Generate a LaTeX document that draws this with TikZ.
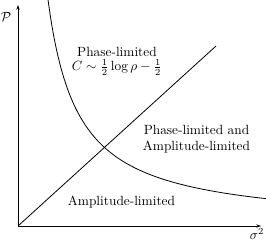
\documentclass[tikz,border=0pt]{standalone}
\usetikzlibrary{arrows.meta}
\begin{document}
\begin{tikzpicture}[x=0.75pt,y=0.75pt,
  axis/.style={line width=0.6pt,-{Stealth[length=3.5pt,width=2.5pt]}},
  curve/.style={line width=0.6pt},
  lbl/.style={inner sep=0pt,align=center}]
\useasboundingbox (-18,-18) rectangle (248,226);
\coordinate (o) at (0,0);
\coordinate (ytop) at (0,221);
\coordinate (xend) at (243,0);
\coordinate (dend) at (198,180);
\draw[axis] (o) -- (ytop);
\draw[axis] (o) -- (xend);
\draw[curve] (o) -- (dend);
\draw[curve] plot[domain=30:248,samples=120,smooth] (\x,{6792/\x});
\node[lbl] (py) at (-12,209) {$\mathcal{P}$};
\node[lbl,anchor=north] (sx) at (239,-2) {$\sigma^2$};
\node[lbl] (pl) at (99,174.5) {Phase-limited};
\node[lbl] (cf) at (99,158.5) {$C\sim\frac{1}{2}\log\rho-\frac{1}{2}$};
\node[lbl] (pa) at (178.5,86.5) {Phase-limited and\\Amplitude-limited};
\node[lbl] (al) at (103.5,24) {Amplitude-limited};
\end{tikzpicture}
\end{document}
